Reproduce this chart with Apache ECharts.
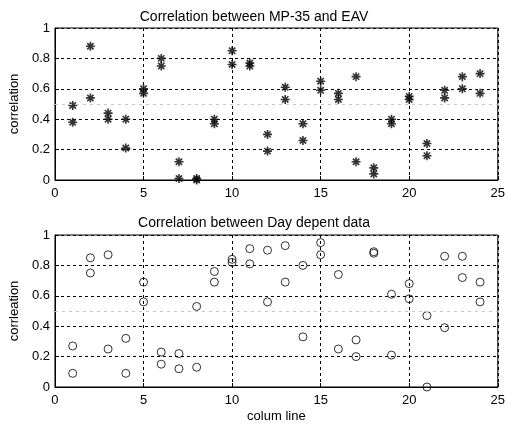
<!DOCTYPE html>
<html>
<head>
<meta charset="utf-8">
<script src="https://cdn.jsdelivr.net/npm/echarts@6/dist/echarts.min.js"></script>
<style>html,body{margin:0;padding:0;background:#fff}#c{width:508px;height:426px}</style>
</head>
<body>
<div id="c"></div>
<script>
var columns = [1,2,3,4,5,6,7,8,9,10,11,12,13,14,15,16,17,18,19,20,21,22,23,24];
var topA = [0.49,0.88,0.44,0.40,0.60,0.80,0.12,0.01,0.40,0.85,0.77,0.30,0.61,0.37,0.65,0.57,0.68,0.08,0.40,0.55,0.24,0.59,0.68,0.70];
var topB = [0.38,0.54,0.40,0.21,0.57,0.75,0.01,0.00,0.37,0.76,0.75,0.19,0.53,0.26,0.59,0.53,0.12,0.04,0.37,0.53,0.16,0.54,0.60,0.57];
var botA = [0.27,0.85,0.87,0.32,0.69,0.23,0.22,0.53,0.76,0.84,0.91,0.90,0.93,0.80,0.95,0.74,0.31,0.89,0.61,0.68,0.47,0.86,0.86,0.69];
var botB = [0.09,0.75,0.25,0.09,0.56,0.15,0.12,0.13,0.69,0.82,0.81,0.56,0.69,0.33,0.87,0.25,0.20,0.88,0.21,0.58,0.00,0.39,0.72,0.56];
var meanLevel = [0.5, 0.5];
var xTicks = {min:0, max:25, interval:5};
var yTicks = {min:0, max:1, interval:0.2};
var titles = ['Correlation between MP-35 and EAV', 'Correlation between Day depent data'];
var yNames = ['correlation', 'corrleation'];
var xName = 'colum line';

function pairs(xs, ys){ return xs.map(function(x,i){ return [x, ys[i]]; }); }

var FONT = 'Liberation Sans, Arial, sans-serif';
var star = 'path://M0,-10L0,10M-10,0L10,0M-7,-7L7,7M-7,7L7,-7';
function xAxis(gi, withName){
  return {
    type:'value', gridIndex:gi, min:xTicks.min, max:xTicks.max, interval:xTicks.interval,
    axisLine:{show:true, lineStyle:{color:'#000', width:1}},
    axisTick:{show:true, inside:true, length:4, lineStyle:{color:'#000'}},
    axisLabel:{color:'#000', fontSize:13, fontFamily:FONT, margin:7},
    splitLine:{show:true, lineStyle:{color:'#000', type:[3,3], width:1}},
    name: withName ? xName : '', nameLocation:'middle', nameGap:23,
    nameTextStyle:{color:'#000', fontSize:13, fontFamily:FONT}
  };
}
function yAxis(gi){
  return {
    type:'value', gridIndex:gi, min:yTicks.min, max:yTicks.max, interval:yTicks.interval,
    axisLine:{show:true, lineStyle:{color:'#000', width:1}},
    axisTick:{show:true, inside:true, length:4, lineStyle:{color:'#000'}},
    axisLabel:{color:'#000', fontSize:13, fontFamily:FONT, margin:5},
    splitLine:{show:true, lineStyle:{color:'#000', type:[3,3], width:1}},
    name: yNames[gi], nameLocation:'middle', nameGap:31,
    nameTextStyle:{color:'#000', fontSize:13, fontFamily:FONT}
  };
}
function meanLine(){
  return {silent:true, symbol:'none', label:{show:false},
    lineStyle:{color:'#c8c8c8', type:[3,4], width:1},
    data:[{yAxis:meanLevel[0]}]};
}

var chart = echarts.init(document.getElementById('c'), null, {renderer:'canvas'});
chart.setOption({
  animation:false,
  backgroundColor:'#fff',
  title:[
    {text:titles[0], left:'center', top:5, textStyle:{fontSize:14, fontWeight:'normal', color:'#000', fontFamily:FONT}},
    {text:titles[1], left:'center', top:211, textStyle:{fontSize:14, fontWeight:'normal', color:'#000', fontFamily:FONT}}
  ],
  grid:[
    {left:50, right:6, top:28, height:152, show:true, borderColor:'#000', borderWidth:1, backgroundColor:'transparent'},
    {left:50, right:6, top:235, height:152, show:true, borderColor:'#000', borderWidth:1, backgroundColor:'transparent'}
  ],
  xAxis:[xAxis(0,false), xAxis(1,true)],
  yAxis:[yAxis(0), yAxis(1)],
  series:[
    {type:'scatter', xAxisIndex:0, yAxisIndex:0, data:pairs(columns, topA), symbol:star, symbolSize:9,
     itemStyle:{color:'none', borderColor:'#000', borderWidth:1.6}, markLine:meanLine()},
    {type:'scatter', xAxisIndex:0, yAxisIndex:0, data:pairs(columns, topB), symbol:star, symbolSize:9,
     itemStyle:{color:'none', borderColor:'#000', borderWidth:1.6}},
    {type:'scatter', xAxisIndex:1, yAxisIndex:1, data:pairs(columns, botA), symbol:'circle', symbolSize:8,
     itemStyle:{color:'none', borderColor:'#000', borderWidth:1}, markLine:meanLine()},
    {type:'scatter', xAxisIndex:1, yAxisIndex:1, data:pairs(columns, botB), symbol:'circle', symbolSize:8,
     itemStyle:{color:'none', borderColor:'#000', borderWidth:1}}
  ]
});
</script>
</body>
</html>
